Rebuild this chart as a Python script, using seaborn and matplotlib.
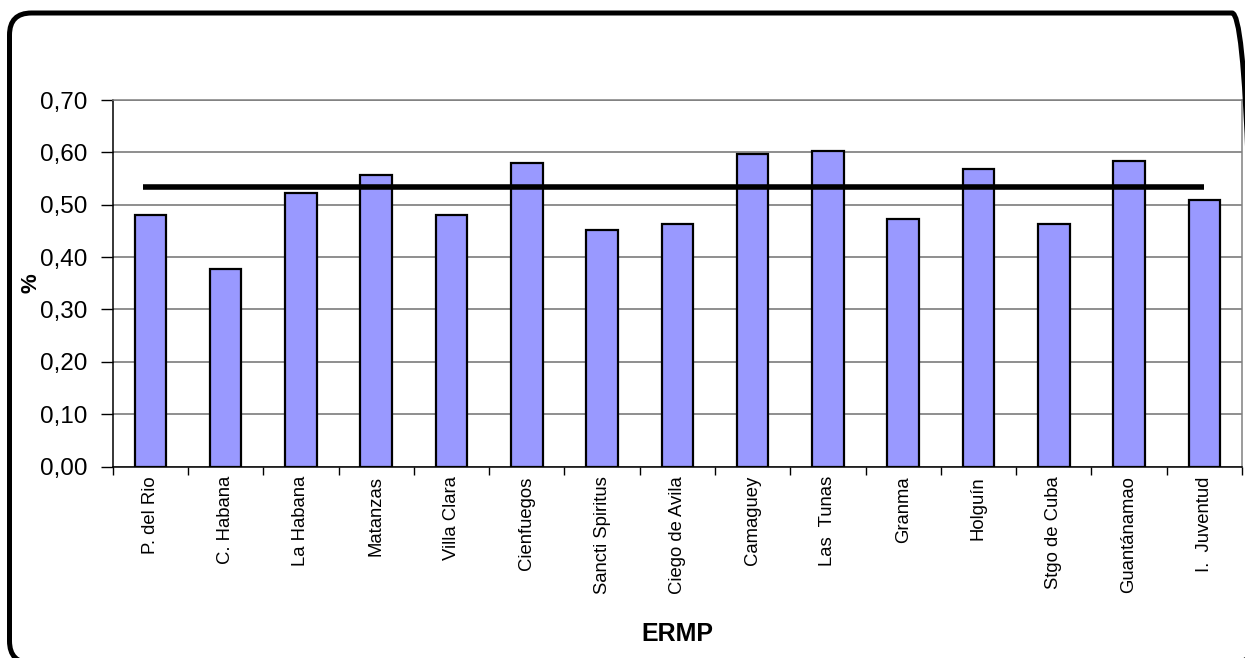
import matplotlib
matplotlib.use("Agg")
import matplotlib.pyplot as plt
import matplotlib.patches as mpatches
from matplotlib.transforms import IdentityTransform
from matplotlib.ticker import FixedLocator, FuncFormatter
import seaborn as sns
import pandas as pd

# Provinces (ERMP) and their share, in %
provinces = [
    "P. del Rio", "C. Habana", "La Habana", "Matanzas", "Villa Clara",
    "Cienfuegos", "Sancti Spiritus", "Ciego de Avila", "Camaguey",
    "Las  Tunas", "Granma", "Holguín", "Stgo de Cuba", "Guantánamao",
    "I.  Juventud",
]
values = [
    0.480, 0.377, 0.523, 0.556, 0.481,
    0.580, 0.451, 0.464, 0.597,
    0.603, 0.472, 0.569, 0.464, 0.583,
    0.509,
]
reference_level = 0.533
y_ticks = [0.0, 0.1, 0.2, 0.3, 0.4, 0.5, 0.6, 0.7]

df = pd.DataFrame({"ERMP": provinces, "pct": values})

sns.set_theme(style="white")
plt.rcParams["font.family"] = ["Liberation Sans", "DejaVu Sans"]

fig = plt.figure(figsize=(12.45, 6.58), dpi=100)
ax = fig.add_axes([0.0905, 0.291, 0.9071, 0.557])

sns.barplot(data=df, x="ERMP", y="pct", color="#9999FF", saturation=1,
            edgecolor="black", linewidth=1.6, width=0.42, ax=ax, zorder=3)

# reference level line
ax.hlines(reference_level, -0.1, len(provinces) - 1, color="black",
          linewidth=4, zorder=4)

ax.set_xlim(-0.5, len(provinces) - 0.5)
ax.set_ylim(0, 0.7)
ax.yaxis.set_major_locator(FixedLocator(y_ticks))
ax.yaxis.set_major_formatter(FuncFormatter(lambda v, p: f"{v:.2f}".replace(".", ",")))
ax.grid(axis="y", color="#707070", linewidth=1.1, zorder=0)
ax.set_axisbelow(True)

# category separators as minor ticks
ax.xaxis.set_minor_locator(FixedLocator([i - 0.5 for i in range(len(provinces) + 1)]))
ax.tick_params(axis="x", which="major", length=0, pad=7, labelsize=13.3,
               labelrotation=90, colors="black")
ax.tick_params(axis="x", which="minor", length=6, width=1, color="black",
               bottom=True, direction="out")
ax.tick_params(axis="y", which="major", length=9, width=1, pad=9,
               labelsize=17.5, left=True, color="black", direction="out",
               labelcolor="black")

for side in ("top", "right"):
    ax.spines[side].set_color("#808080")
    ax.spines[side].set_linewidth(1.1)
for side in ("left", "bottom"):
    ax.spines[side].set_color("black")
    ax.spines[side].set_linewidth(1.1)

ax.set_xlabel("ERMP", fontsize=18, fontweight="bold", color="black")
ax.set_ylabel("%", fontsize=16, fontweight="bold", color="black")
ax.xaxis.set_label_coords(0.5, -0.457)
ax.xaxis.label.set_va("center")
ax.yaxis.set_label_coords(-0.0723, 0.5)
ax.yaxis.label.set_va("center")

# rounded frame around the chart, running past the right and bottom edges
r = 22
left, bottom, right, top = 9.5, -5.0, 1254.0, 645.0
frame = mpatches.FancyBboxPatch((left + r, bottom + r),
                                right - left - 2 * r, top - bottom - 2 * r,
                                boxstyle=f"round,pad={r}",
                                transform=IdentityTransform(),
                                facecolor="none", edgecolor="black",
                                linewidth=3.6, zorder=10)
fig.patches.append(frame)

fig.savefig("out.png", dpi=100)
